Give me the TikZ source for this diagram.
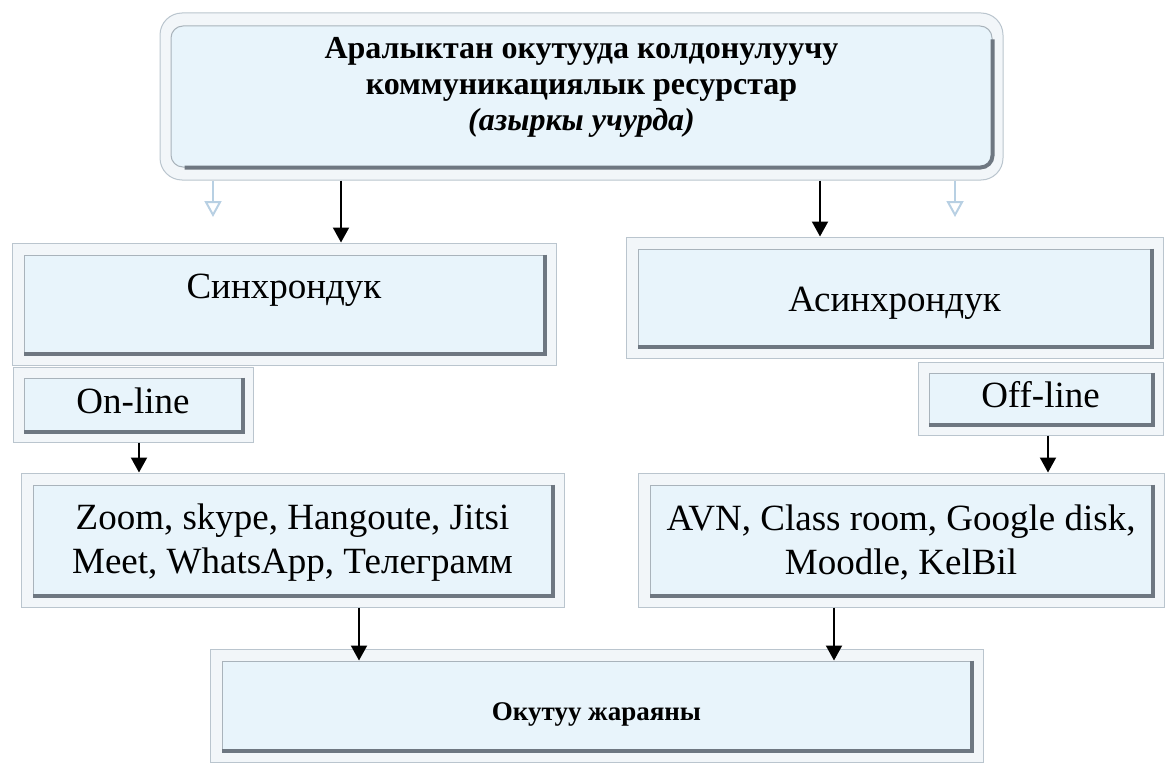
\documentclass[tikz,border=0pt]{standalone}
\usepackage{fontspec}
\setmainfont{Liberation Serif}
\usetikzlibrary{arrows.meta,positioning,calc}
\definecolor{panelfill}{HTML}{E8F4FB}
\definecolor{rimfill}{HTML}{F2F6F9}
\definecolor{rimline}{HTML}{BAC5CE}
\definecolor{bevelgray}{HTML}{6E7781}
\definecolor{edgegray}{HTML}{A9B3BB}
\definecolor{ghostblue}{HTML}{B8D0E3}
\tikzset{
  rim/.style   ={draw=rimline,line width=1pt,fill=rimfill,inner sep=0pt},
  panel/.style ={draw=edgegray,line width=1pt,fill=panelfill,inner sep=0pt},
  bevel/.style ={draw=bevelgray,line width=4pt},
  txt/.style   ={font=\fontsize{37}{44}\selectfont,align=center,inner sep=0pt},
  head/.style  ={font=\fontsize{32}{36}\selectfont\bfseries,align=center,inner sep=0pt},
  flow/.style  ={-{Triangle[length=15pt,width=16pt]},line width=2pt,draw=black},
  ghost/.style ={-{Triangle[open,length=16pt,width=17pt]},line width=2pt,draw=ghostblue}
}

\begin{document}
\begin{tikzpicture}[x=1pt,y=-1pt]
  \useasboundingbox (0,0) rectangle (1166,765);
  % title box
  \node[rim,rounded corners=22pt,minimum width=843,minimum height=167] (toprim) at (581.5,96.5) {};
  \node[panel,rounded corners=12pt,minimum width=821,minimum height=141] (top) at (toprim.center) {};
  \draw[bevel,rounded corners=12pt] ([yshift=-14]top.north east) -- (top.south east) -- ([xshift=14]top.south west);
  \node[head] (toptext) at ([yshift=9]top.center)
    {Аралыктан окутууда колдонулуучу\\коммуникациялык ресурстар\\\textit{(азыркы учурда)}};
  % second row
  \node[rim,minimum width=544,minimum height=122] (synrim) at (284,304) {};
  \node[panel,minimum width=520,minimum height=98] (syn) at (synrim.center) {};
  \node[rim,minimum width=537,minimum height=121] (asynrim) at (894.5,297.5) {};
  \node[panel,minimum width=513,minimum height=97] (asyn) at (asynrim.center) {};
  % on-line / off-line tags
  \node[rim,minimum width=240,minimum height=75] (onrim) at (133,404.5) {};
  \node[panel,minimum width=218,minimum height=53] (online) at (onrim.center) {};
  \node[rim,minimum width=245,minimum height=73] (offrim) at (1040.5,398.5) {};
  \node[panel,minimum width=223,minimum height=51] (offline) at (offrim.center) {};
  % tool lists
  \node[rim,minimum width=543,minimum height=134] (stoolrim) at (292.5,540) {};
  \node[panel,minimum width=519,minimum height=110] (stools) at (stoolrim.center) {};
  \node[rim,minimum width=526,minimum height=134] (atoolrim) at (901,540) {};
  \node[panel,minimum width=502,minimum height=110] (atools) at (atoolrim.center) {};
  % learning process
  \node[rim,minimum width=773,minimum height=113] (procrim) at (596.5,705.5) {};
  \node[panel,minimum width=749,minimum height=89] (proc) at (procrim.center) {};
  \foreach \p in {syn,asyn,online,offline,stools,atools,proc}
    \draw[bevel] (\p.north east) -- (\p.south east) -- (\p.south west);
  % texts
  \node[txt] (syntext) at ([yshift=14]syn.center) {Синхрондук};
  \node[txt] (asyntext) at ([yshift=-6]asyn.center) {Асинхрондук};
  \node[txt] (ontext) at ([yshift=4]online.center) {On-line};
  \node[txt] (offtext) at ([yshift=4]offline.center) {Off-line};
  \node[txt] (stooltext) at ([yshift=-3]stools.center) {Zoom, skype, Hangoute, Jitsi\\Meet, WhatsApp, Телеграмм};
  \node[txt] (atooltext) at ([yshift=-3]atools.center) {AVN, Class room, Google disk,\\Moodle, KelBil};
  \node[head,font=\fontsize{27}{32}\selectfont\bfseries] (proctext) at ([yshift=-9]proc.center) {Окутуу жараяны};
  % arrows
  \coordinate (g1) at (213,217);
  \coordinate (g2) at (955,217);
  \coordinate (xa) at (341,0);
  \coordinate (xb) at (820,0);
  \coordinate (xc) at (139,0);
  \coordinate (xd) at (1048,0);
  \coordinate (xe) at (359,0);
  \coordinate (xf) at (834,0);
  \draw[ghost] (toprim.south -| g1) -- (g1);
  \draw[ghost] (toprim.south -| g2) -- (g2);
  \draw[flow] (toprim.south -| xa) -- (synrim.north -| xa);
  \draw[flow] (toprim.south -| xb) -- (asynrim.north -| xb);
  \draw[flow] (onrim.south -| xc) -- (stoolrim.north -| xc);
  \draw[flow] (offrim.south -| xd) -- (atoolrim.north -| xd);
  \draw[flow] (stoolrim.south -| xe) -- (proc.north -| xe);
  \draw[flow] (atoolrim.south -| xf) -- (proc.north -| xf);
\end{tikzpicture}
\end{document}
